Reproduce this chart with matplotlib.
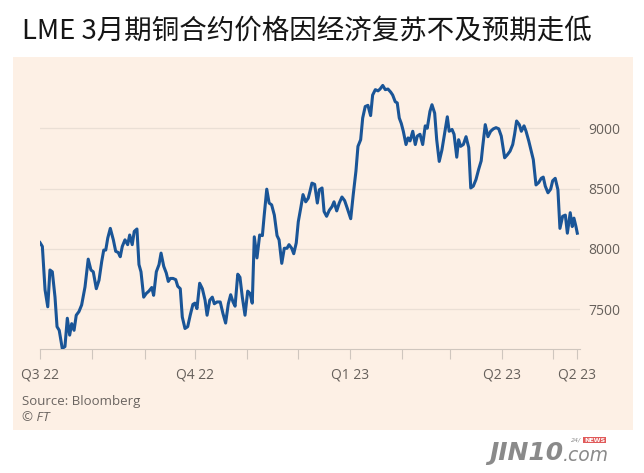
import matplotlib
matplotlib.use("Agg")
import matplotlib.pyplot as plt
from matplotlib.patches import Rectangle
import pandas as pd
import numpy as np

# ---- data ----
start_date = "2022-07-01"
days = [0.0, 1.4, 3.0, 4.6, 5.9, 7.3, 8.9, 10.1, 11.4, 13.2, 14.8, 16.2, 17.6, 18.8, 20.2, 21.5,
        23.1, 24.7, 26.7, 28.6, 30.2, 31.6, 33.4, 35.0, 36.6, 37.8, 39.0, 40.2, 41.7, 43.5, 44.9,
        46.4, 47.6, 48.8, 50.4, 52.0, 53.2, 54.7, 55.9, 57.5, 58.7, 59.9, 61.5, 63.0, 64.6, 66.3,
        67.4, 69.0, 70.6, 71.8, 73.4, 74.9, 76.1, 77.3, 78.9, 80.5, 81.7, 83.2, 84.4, 86.0, 87.6,
        89.1, 90.7, 91.9, 93.1, 94.7, 96.3, 97.9, 99.1, 100.7, 102.2, 103.4, 105.0, 106.9, 108.5,
        110.1, 111.7, 113.1, 114.5, 115.7, 117.3, 118.6, 120.0, 121.6, 123.2, 124.6, 125.9, 127.1,
        128.7, 130.3, 131.9, 133.0, 134.5, 135.9, 137.4, 139.0, 140.6, 141.8, 143.4, 144.9, 146.5,
        147.7, 149.3, 150.5, 152.0, 153.2, 154.8, 156.0, 157.6, 159.1, 160.1, 161.3, 162.9, 164.5,
        165.7, 167.3, 168.5, 170.0, 171.6, 173.2, 174.4, 176.0, 177.5, 179.1, 180.7, 182.3, 184.3,
        185.8, 187.4, 188.6, 190.2, 191.4, 192.9, 194.5, 196.1, 197.3, 198.9, 200.5, 201.7, 203.3,
        204.8, 206.4, 208.0, 209.2, 210.7, 211.9, 213.1, 214.3, 215.5, 217.1, 218.3, 219.5, 221.1,
        222.6, 223.8, 225.4, 227.0, 228.5, 229.7, 231.3, 232.5, 234.1, 235.3, 236.8, 238.4, 240.0,
        241.6, 242.7, 244.4, 245.6, 247.2, 248.3, 249.5, 251.1, 252.7, 254.3, 255.5, 257.0, 258.6,
        260.2, 261.7, 262.6, 264.1, 265.7, 267.3, 268.9, 270.5, 272.1, 273.6, 275.6, 277.2, 278.8,
        280.4, 281.5, 282.7, 284.3, 285.5, 287.1, 288.3, 289.9, 291.4, 292.6, 294.2, 295.8, 297.3,
        298.5, 299.7, 301.3, 302.9, 304.1, 305.6, 307.2, 308.4, 310.0, 311.6, 312.8, 314.5, 315.7,
        316.7, 317.9, 318.7]
prices = [8052, 8020, 7660, 7520, 7825, 7810, 7600, 7355, 7325, 7175, 7190, 7425, 7285, 7380, 7325, 7450,
          7480, 7535, 7685, 7915, 7825, 7810, 7670, 7740, 7895, 7990, 7990, 8090, 8170, 8075, 7980,
          7970, 7935, 8020, 8075, 8035, 8115, 8035, 8145, 8165, 7870, 7810, 7600, 7630, 7650, 7680,
          7615, 7810, 7870, 7965, 7855, 7800, 7730, 7755, 7755, 7745, 7690, 7670, 7435, 7340, 7355,
          7450, 7540, 7550, 7505, 7715, 7670, 7575, 7450, 7575, 7600, 7545, 7560, 7560, 7465,
          7385, 7545, 7620, 7560, 7525, 7790, 7765, 7600, 7450, 7650, 7630, 7550, 8100,
          7925, 8115, 8110, 8280, 8495, 8380, 8365, 8280, 8110, 8075, 7880, 8005, 8005,
          8035, 8005, 7960, 8050, 8225, 8350, 8450, 8390, 8420, 8475, 8545, 8535, 8380,
          8490, 8505, 8310, 8270, 8320, 8350, 8390, 8315, 8380, 8430, 8400, 8335, 8250,
          8450, 8645, 8850, 8905, 9085, 9180, 9190, 9105, 9275, 9320, 9310, 9325, 9355,
          9320, 9325, 9300, 9275, 9220, 9210, 9085, 9040, 8975, 8865, 8920, 8895, 8975,
          8865, 8935, 8950, 8865, 9020, 9000, 9140, 9195, 9125, 8905, 8725, 8820, 8960,
          9095, 8975, 8990, 8950, 8760, 8905, 8850, 8865, 8930, 8840, 8505, 8520, 8575,
          8660, 8730, 8850, 9030, 8930, 8975, 8995, 9005, 8995, 8935, 8755, 8780, 8810,
          8865, 8950, 9060, 9030, 8975, 9020, 8975, 8895, 8810, 8740, 8530, 8550, 8585,
          8595, 8520, 8465, 8495, 8565, 8585, 8490, 8170, 8270, 8280, 8130, 8300, 8185,
          8255, 8185, 8130]
y_ticks = [7500, 8000, 8500, 9000]
quarter_dates = ["2022-07-01", "2022-10-01", "2023-01-01", "2023-04-01"]
quarter_labels = ["Q3 22", "Q4 22", "Q1 23", "Q2 23"]
month_dates = ["2022-08-01", "2022-09-01", "2022-11-01", "2022-12-01",
               "2023-02-01", "2023-03-01", "2023-05-01"]
end_label = "Q2 23"

title = "LME 3月期铜合约价格因经济复苏不及预期走低"
source = "Source: Bloomberg"
credit = "© FT"

# ---- figure ----
W, H = 644, 473
fig = plt.figure(figsize=(W / 100, H / 100), dpi=100, facecolor="white")

# panel background
fig.patches.append(Rectangle((13 / W, 1 - 430 / H), (633 - 13) / W, (430 - 57) / H,
                             transform=fig.transFigure, facecolor="#FDF0E5",
                             edgecolor="none", zorder=-5))

fig.text(22 / W, 1 - 31 / H, title, fontsize=19.8, family=["Noto Sans CJK SC", "DejaVu Sans"],
         color="#151515", va="center", ha="left")

ax = fig.add_axes([40 / W, 1 - 349 / H, (580 - 40) / W, (349 - 80) / H], zorder=2)
ax.set_facecolor("none")

t0 = pd.Timestamp(start_date)
def to_day(s):
    return (pd.Timestamp(s) - t0).days

ax.plot(days, prices, color="#1A5597", lw=2.2, solid_joinstyle="round", zorder=3)

ax.set_xlim(0, 320.3)
ax.set_ylim(7170, 9400)

ax.set_yticks(y_ticks)
ax.set_yticklabels([str(v) for v in y_ticks])
ax.yaxis.tick_right()
ax.tick_params(axis="y", length=0, pad=6, labelsize=10, labelcolor="#66605B")
for lab in ax.get_yticklabels():
    lab.set_family("Open Sans")
ax.grid(axis="y", color="#EADFD5", lw=0.9)
ax.set_axisbelow(True)

major = [to_day(d) for d in quarter_dates] + [days[-1]]
ax.set_xticks(major)
ax.set_xticklabels(quarter_labels + [end_label])
ax.set_xticks([to_day(d) for d in month_dates], minor=True)
ax.tick_params(axis="x", which="both", length=7, width=0.8, color="#CFC6BE",
               direction="out", pad=6)
ax.tick_params(axis="x", which="major", labelsize=10, labelcolor="#66605B")
for lab in ax.get_xticklabels():
    lab.set_family("Open Sans")

for s in ["top", "right", "left"]:
    ax.spines[s].set_visible(False)
ax.spines["bottom"].set_color("#CFC6BE")
ax.spines["bottom"].set_linewidth(0.8)

fig.text(22 / W, 1 - 402 / H, source, fontsize=9.5, color="#6A6460", family="Open Sans",
         va="center", ha="left")
fig.text(22 / W, 1 - 417 / H, credit, fontsize=9.5, color="#6A6460", family="Open Sans",
         style="italic", va="center", ha="left")

# watermark
fig.text(489 / W, 1 - 453 / H, "JIN10", fontsize=18, color="#8A8A8A", weight="bold",
         style="italic", family="DejaVu Sans", va="center", ha="left")
fig.text(563 / W, 1 - 455 / H, ".com", fontsize=13.5, color="#8A8A8A",
         style="italic", family="DejaVu Sans", va="center", ha="left")
fig.text(581 / W, 1 - 440 / H, "24/", fontsize=4.5, color="#8A8A8A", style="italic",
         family="DejaVu Sans", va="center", ha="right")
fig.text(584 / W, 1 - 440 / H, "NEWS", fontsize=4.5, color="white", weight="bold",
         family="DejaVu Sans", va="center", ha="left",
         bbox=dict(boxstyle="square,pad=0.15", fc="#E05A5A", ec="none"))

fig.savefig("out.png", dpi=100, facecolor="white")
